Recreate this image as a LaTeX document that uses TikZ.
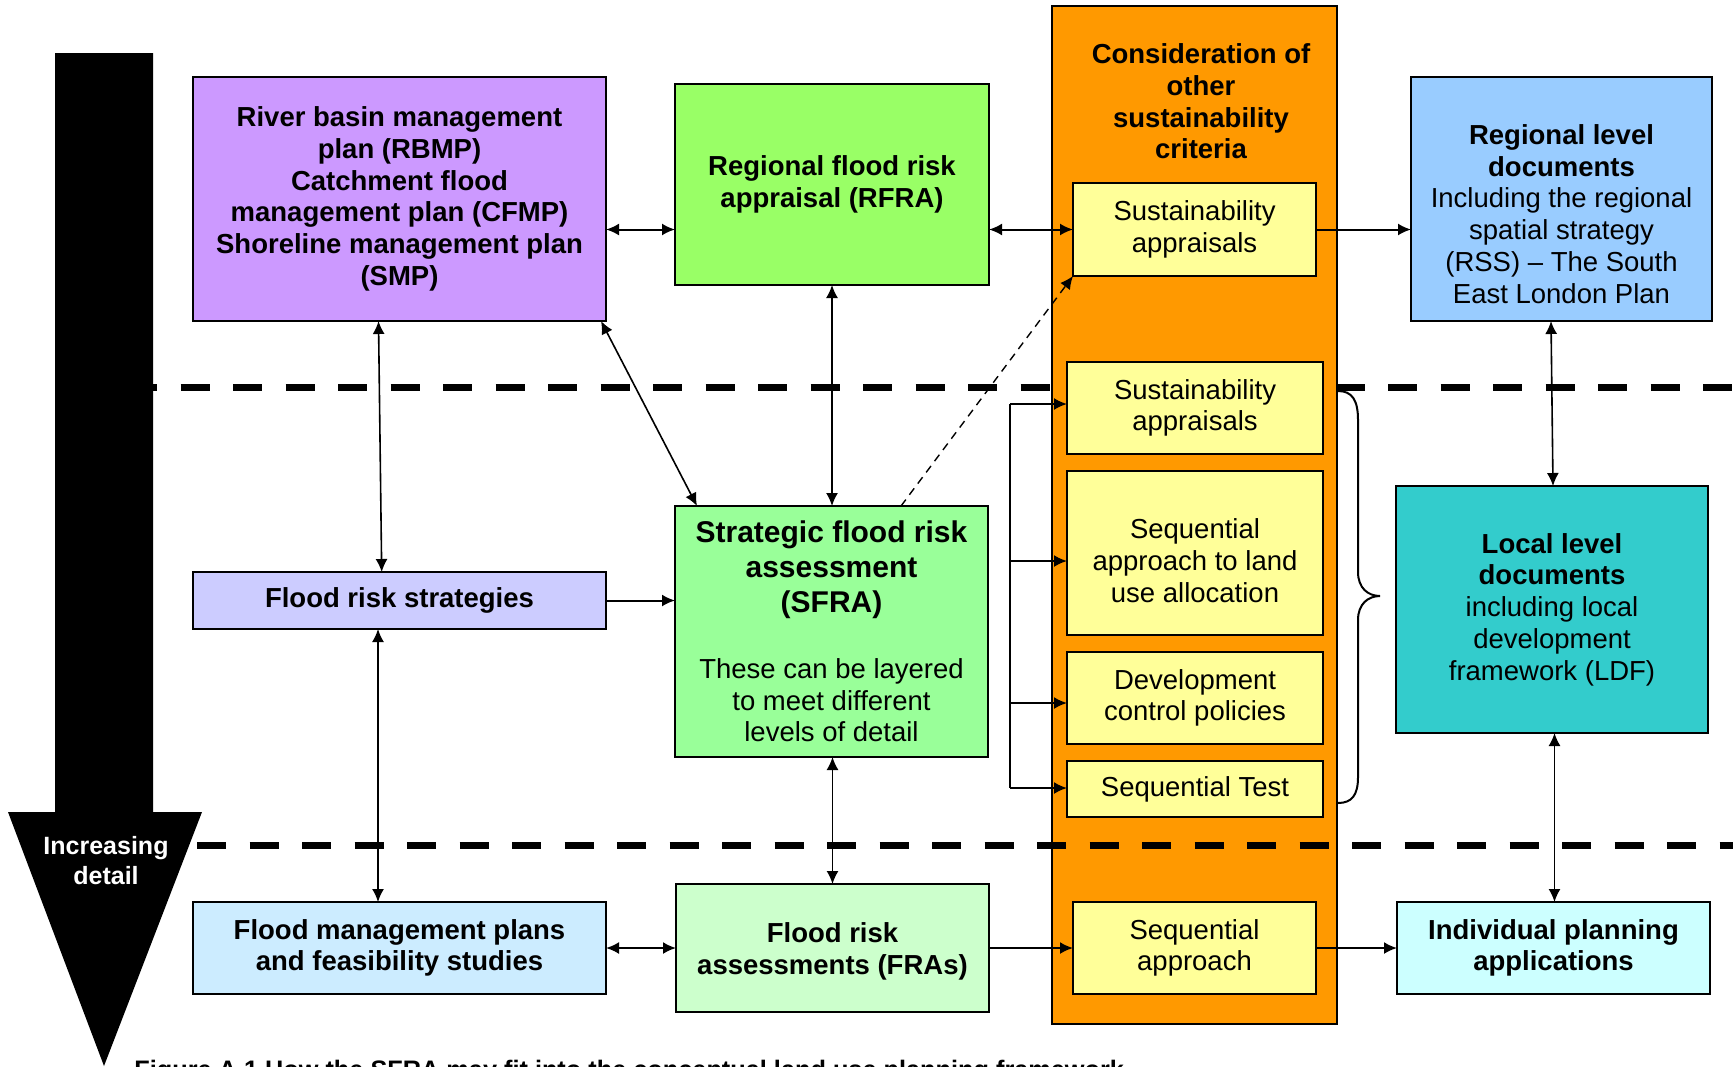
\documentclass[tikz,border=0pt]{standalone}
\usepackage{fontspec}
\setmainfont{Liberation Sans}
\usetikzlibrary{arrows.meta,calc}
\newcommand\rgsz{\fontsize{13.75}{15.85}\selectfont}
\newcommand\sfsz{\fontsize{15}{17.5}\selectfont\bfseries}
\definecolor{cpurple}{HTML}{CC99FF}
\definecolor{cgreen}{HTML}{99FF66}
\definecolor{corange}{HTML}{FF9900}
\definecolor{cyellow}{HTML}{FFFF99}
\definecolor{cblue}{HTML}{99CCFF}
\definecolor{clav}{HTML}{CCCCFF}
\definecolor{csfra}{HTML}{99FF99}
\definecolor{cteal}{HTML}{33CCCC}
\definecolor{cfmp}{HTML}{CCECFF}
\definecolor{cfra}{HTML}{CCFFCC}
\definecolor{cipa}{HTML}{CCFFFF}
\begin{document}
\begin{tikzpicture}[x=0.5pt,y=-0.5pt,
  box/.style={draw=black, line width=1pt, inner sep=0pt, outer sep=0pt, align=center, font=\rgsz},
  bbox/.style={box, font=\rgsz\bfseries},
  txt/.style={align=center, font=\rgsz, inner sep=0pt},
  arr/.style={line width=0.8pt, -{Latex[length=6.5pt,width=6pt]}},
  dbl/.style={line width=0.8pt, {Latex[length=6.5pt,width=6pt]}-{Latex[length=6.5pt,width=6pt]}},
  harr/.style={arr, line width=1pt},
  hdbl/.style={dbl, line width=1pt},
  bigdash/.style={line width=3.5pt, dash pattern=on 14.5pt off 11.75pt}]
\path[use as bounding box] (0,0) rectangle (1733,1066);
\clip (0,0) rectangle (1733,1066);
\fill[white] (0,0) rectangle (1733,1066);

% upper dashed separator (behind the orange column)
\coordinate (d1a) at (128,387);
\coordinate (d1b) at (1740,387);
\draw[bigdash] (d1a) -- (d1b);

% big black arrow
\fill[black] (55,53) -- (153,53) -- (153,812) -- (202,812) -- (104,1066) -- (8,812) -- (55,812) -- cycle;
\node[font=\fontsize{12.5}{15}\selectfont\bfseries, text=white, align=center] (incr) at (106,861) {Increasing\\detail};

% boxes
\node[bbox, fill=cpurple, minimum width=206.5pt, minimum height=122pt] (rbmp) at (399.5,199)
  {River basin management\\plan (RBMP)\\Catchment flood\\management plan (CFMP)\\Shoreline management plan\\(SMP)};
\node[bbox, fill=cgreen, minimum width=157pt, minimum height=100.5pt] (rfra) at (832,184.5)
  {Regional flood risk\\appraisal (RFRA)};
\node[box, fill=corange, minimum width=142.5pt, minimum height=509pt] (col) at (1194.5,515) {};
\node[font=\rgsz\bfseries, align=center] (otitle) at (1201,101.5)
  {Consideration of\\other\\sustainability\\criteria};
\node[box, fill=cyellow, minimum width=121.5pt, minimum height=46.5pt] (sa1) at (1194.5,229.5)
  {Sustainability\\appraisals};
\node[box, fill=cblue, minimum width=150.5pt, minimum height=122pt] (rld) at (1561.5,199) {};
\node[txt] (rldt) at ([yshift=-7.5pt]rld.center)
  {\bfseries Regional level\\\bfseries documents\\Including the regional\\spatial strategy\\(RSS) -- The South\\East London Plan};
\node[bbox, fill=clav, minimum width=206.5pt, minimum height=28.5pt] (frs) at (399.5,600.5)
  {Flood risk strategies};
\node[box, fill=csfra, minimum width=156.5pt, minimum height=125.5pt] (sfra) at (831.5,631.5)
  {\sfsz Strategic flood risk\\[1.7pt]\sfsz assessment\\[1.7pt]\sfsz (SFRA)\\[17pt]These can be layered\\to meet different\\levels of detail};
\node[box, fill=cyellow, minimum width=128pt, minimum height=46pt] (sa2) at (1195,408)
  {Sustainability\\appraisals};
\node[box, fill=cyellow, minimum width=128pt, minimum height=82pt] (seqal) at (1195,553) {};
\node[txt] (seqalt) at ([yshift=-3.8pt]seqal.center)
  {Sequential\\approach to land\\use allocation};
\node[box, fill=cyellow, minimum width=128pt, minimum height=46pt] (dcp) at (1195,698)
  {Development\\control policies};
\node[box, fill=cyellow, minimum width=128pt, minimum height=28pt] (st) at (1195,789)
  {Sequential Test};
\node[box, fill=cyellow, minimum width=121.5pt, minimum height=46pt] (seqa) at (1194.5,948)
  {Sequential\\approach};
\node[box, fill=cteal, minimum width=156pt, minimum height=123.5pt] (lld) at (1552,609.5)
  {\bfseries Local level\\\bfseries documents\\including local\\development\\framework (LDF)};
\node[bbox, fill=cfmp, minimum width=206.5pt, minimum height=46pt] (fmp) at (399.5,948)
  {Flood management plans\\and feasibility studies};
\node[bbox, fill=cfra, minimum width=156.5pt, minimum height=64pt] (fra) at (832.5,948) {};
\node[txt, font=\rgsz\bfseries] (frat) at ([yshift=-1.8pt]fra.center)
  {Flood risk\\assessments (FRAs)};
\node[bbox, fill=cipa, minimum width=156.5pt, minimum height=46pt] (ipa) at (1553.5,948)
  {Individual planning\\applications};

% lower dashed separator (in front of the orange column)
\coordinate (d2a) at (197,845);
\coordinate (d2b) at (1740,845);
\draw[bigdash] (d2a) -- (d2b);

% connectors
\draw[hdbl] (rbmp.east |- sa1.west) -- (rfra.west |- sa1.west);
\draw[hdbl] (rfra.east |- sa1.west) -- (sa1.west);
\draw[harr] (sa1.east) -- (rld.west |- sa1.east);
\draw[dbl] ([xshift=-10.5pt]rbmp.south) -- ([xshift=-8.9pt]frs.north);
\draw[dbl] ([xshift=-2.5pt]rbmp.south east) -- ([xshift=11pt]sfra.north west);
\draw[dbl] (rfra.south) -- (rfra.south |- sfra.north);
\draw[line width=0.7pt, dash pattern=on 4pt off 3pt, -{Latex[length=6.5pt,width=6pt]}] ([xshift=34.75pt]sfra.north) -- (sa1.south west);
\draw[harr] (frs.east) -- (sfra.west |- frs.east);
\draw[dbl] ([xshift=-10.75pt]frs.south) -- ([xshift=-10.75pt]fmp.north);
\draw[dbl] ([xshift=0.5pt]sfra.south) -- ([xshift=0.5pt]sfra.south |- fra.north);
\draw[hdbl] (fmp.east) -- (fra.west);
\draw[harr] (fra.east) -- (seqa.west);
\draw[harr] (seqa.east) -- (ipa.west);
\draw[dbl] ([xshift=-5.25pt]rld.south) -- ([xshift=0.5pt]lld.north);
\draw[dbl] ([xshift=1.25pt]lld.south) -- ([xshift=0.5pt]ipa.north);

% bracket feeding the criteria boxes
\coordinate (b1) at (1010,404);
\coordinate (b2) at (1010,561);
\coordinate (b3) at (1010,703);
\coordinate (b4) at (1010,788);
\draw[line width=0.8pt] (b1) -- (b4);
\draw[harr] (b1) -- (b1 -| sa2.west);
\draw[harr] (b2) -- (b2 -| seqal.west);
\draw[harr] (b3) -- (b3 -| dcp.west);
\draw[harr] (b4) -- (b4 -| st.west);

% right brace
\draw[line width=1pt] (1338,391) .. controls (1352,391) and (1358,400) .. (1358,420)
  -- (1358,572) .. controls (1358,588) and (1368,596) .. (1380,596)
  .. controls (1368,596) and (1358,604) .. (1358,620)
  -- (1358,777) .. controls (1358,795) and (1352,803) .. (1338,803);

% caption (cut off at the bottom edge, as in the reference)
\node[anchor=base west, inner sep=0pt, font=\fontsize{12.65}{15}\selectfont\bfseries] (cap) at (134,1078)
  {Figure A.1 How the SFRA may fit into the conceptual land use planning framework};
\end{tikzpicture}
\end{document}
